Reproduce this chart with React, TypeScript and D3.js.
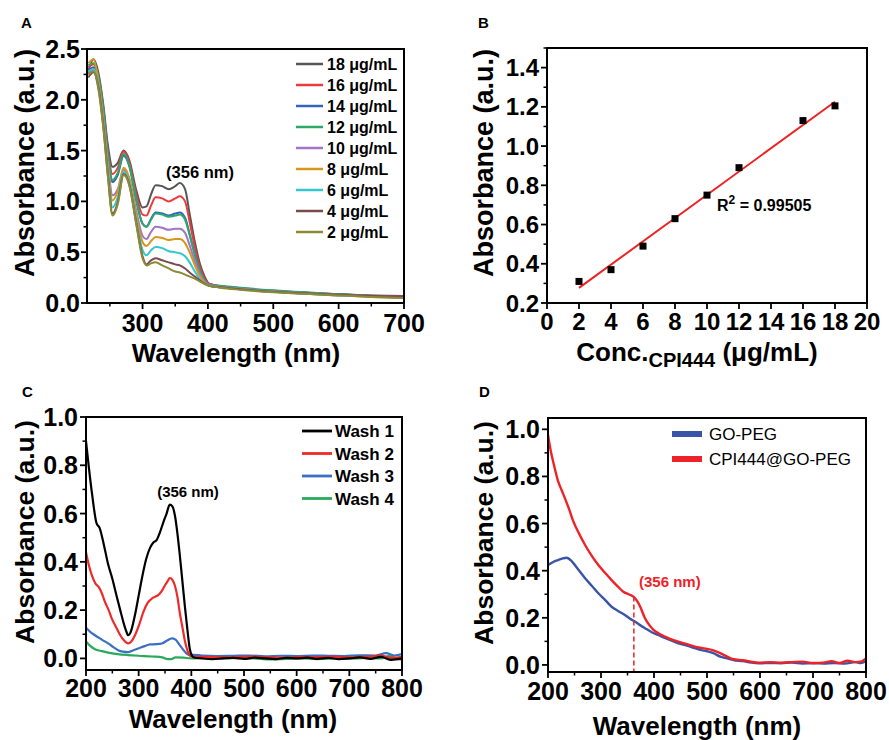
import React from 'react';
import * as d3 from 'd3';

const FONT = "'Liberation Sans', Arial, Helvetica, sans-serif";

// ---------- Panel A data ----------
const wlA = [217, 225, 232, 240, 247, 254, 262, 271, 280, 290, 300, 306, 313, 320, 330, 340, 350, 357, 365, 372, 380, 388, 395, 402, 420, 450, 500, 550, 600, 650, 700];
const a18 = [2.28, 2.40, 2.28, 1.95, 1.55, 1.34, 1.38, 1.50, 1.40, 1.12, 0.94, 0.95, 1.07, 1.16, 1.15, 1.12, 1.15, 1.18, 1.12, 0.88, 0.60, 0.38, 0.26, 0.19, 0.165, 0.14, 0.115, 0.10, 0.085, 0.075, 0.07];
const a16 = [2.32, 2.35, 2.25, 1.92, 1.50, 1.27, 1.33, 1.49, 1.38, 1.08, 0.87, 0.86, 0.96, 1.04, 1.03, 1.00, 1.03, 1.05, 1.00, 0.80, 0.55, 0.35, 0.24, 0.185, 0.165, 0.14, 0.115, 0.10, 0.085, 0.072, 0.065];
const a14 = [2.28, 2.32, 2.22, 1.88, 1.45, 1.19, 1.26, 1.45, 1.34, 1.02, 0.78, 0.75, 0.83, 0.89, 0.88, 0.86, 0.88, 0.89, 0.84, 0.68, 0.48, 0.31, 0.22, 0.18, 0.165, 0.145, 0.12, 0.10, 0.085, 0.07, 0.06];
const a12 = [2.34, 2.36, 2.24, 1.90, 1.47, 1.21, 1.28, 1.47, 1.35, 1.03, 0.78, 0.75, 0.82, 0.88, 0.87, 0.85, 0.86, 0.87, 0.82, 0.67, 0.47, 0.31, 0.22, 0.18, 0.17, 0.15, 0.125, 0.105, 0.085, 0.07, 0.055];
const a10 = [2.26, 2.30, 2.18, 1.82, 1.38, 1.06, 1.12, 1.31, 1.22, 0.92, 0.66, 0.63, 0.70, 0.75, 0.74, 0.72, 0.73, 0.73, 0.69, 0.57, 0.41, 0.28, 0.21, 0.18, 0.16, 0.14, 0.115, 0.095, 0.08, 0.07, 0.06];
const a8 = [2.36, 2.40, 2.20, 1.80, 1.34, 1.01, 1.10, 1.33, 1.22, 0.88, 0.60, 0.56, 0.61, 0.65, 0.64, 0.62, 0.63, 0.63, 0.59, 0.50, 0.37, 0.26, 0.20, 0.17, 0.155, 0.135, 0.11, 0.09, 0.075, 0.06, 0.05];
const a6 = [2.28, 2.30, 2.16, 1.76, 1.30, 0.94, 1.04, 1.29, 1.18, 0.83, 0.52, 0.47, 0.52, 0.55, 0.54, 0.51, 0.50, 0.49, 0.46, 0.40, 0.31, 0.23, 0.19, 0.17, 0.155, 0.135, 0.11, 0.09, 0.075, 0.065, 0.055];
const a4 = [2.22, 2.27, 2.14, 1.74, 1.26, 0.88, 0.99, 1.27, 1.16, 0.80, 0.46, 0.38, 0.42, 0.44, 0.42, 0.40, 0.38, 0.37, 0.34, 0.30, 0.26, 0.22, 0.19, 0.17, 0.155, 0.135, 0.11, 0.095, 0.08, 0.07, 0.065];
const a2 = [2.25, 2.28, 2.12, 1.72, 1.24, 0.86, 0.97, 1.26, 1.15, 0.79, 0.44, 0.37, 0.39, 0.40, 0.37, 0.34, 0.31, 0.30, 0.28, 0.26, 0.24, 0.21, 0.185, 0.17, 0.15, 0.13, 0.105, 0.09, 0.075, 0.06, 0.05];
const seriesA = [a18, a16, a14, a12, a10, a8, a6, a4, a2];
const labelsA = ['18 μg/mL', '16 μg/mL', '14 μg/mL', '12 μg/mL', '10 μg/mL', '8 μg/mL', '6 μg/mL', '4 μg/mL', '2 μg/mL'];
const colorsA = ['#555555', '#ee3a3f', '#3565b8', '#2ba86a', '#a274c4', '#d9961c', '#35c6cf', '#7b4a4c', '#8b8b35'];
const xTicksA = [300, 400, 500, 600, 700];
const yTicksA = [0, 0.5, 1.0, 1.5, 2.0, 2.5];

// ---------- Panel B data ----------
const concB = [2, 4, 6, 8, 10, 12, 16, 18];
const absB = [0.31, 0.37, 0.49, 0.63, 0.75, 0.89, 1.13, 1.205];
const xTicksB = [0, 2, 4, 6, 8, 10, 12, 14, 16, 18, 20];
const yTicksB = [0.2, 0.4, 0.6, 0.8, 1.0, 1.2, 1.4];
const r2Text = '0.99505';

// ---------- Panel C data ----------
const wash1Wl = [200, 205, 211, 220, 226, 234, 242, 250, 258, 265, 271, 276, 280, 285, 293, 300, 306, 314, 322, 328, 334, 340, 347, 353, 359, 364, 369, 374, 378, 383, 388, 393, 397, 401, 405, 420, 440, 460, 480, 500, 520, 540, 560, 580, 600, 620, 640, 660, 680, 700, 720, 740, 760, 780, 800];
const wash1Ab = [0.90, 0.80, 0.69, 0.56, 0.54, 0.47, 0.39, 0.33, 0.26, 0.20, 0.15, 0.115, 0.096, 0.11, 0.18, 0.26, 0.33, 0.41, 0.46, 0.48, 0.49, 0.52, 0.565, 0.60, 0.637, 0.63, 0.59, 0.51, 0.43, 0.32, 0.21, 0.11, 0.04, 0.012, 0.004, 0.0, -0.003, 0.0, 0.002, -0.002, 0.003, 0.0, -0.003, 0.002, 0.0, 0.003, -0.002, 0.002, -0.003, 0.0, 0.004, -0.002, 0.006, -0.006, 0.0];
const wash2Wl = [200, 205, 211, 218, 224, 230, 236, 243, 249, 257, 265, 272, 280, 286, 293, 301, 309, 317, 325, 331, 337, 344, 350, 355, 359, 364, 369, 374, 378, 383, 388, 393, 397, 401, 430, 460, 490, 520, 550, 580, 610, 640, 670, 700, 730, 760, 780, 800];
const wash2Ab = [0.44, 0.39, 0.345, 0.31, 0.296, 0.27, 0.234, 0.20, 0.165, 0.13, 0.096, 0.075, 0.062, 0.07, 0.096, 0.14, 0.193, 0.23, 0.248, 0.255, 0.262, 0.28, 0.303, 0.32, 0.333, 0.325, 0.30, 0.25, 0.19, 0.13, 0.07, 0.03, 0.012, 0.008, 0.006, 0.004, 0.006, 0.008, 0.004, 0.003, 0.006, 0.005, 0.007, 0.004, 0.006, 0.012, 0.002, 0.006];
const wash3Wl = [200, 208, 217, 230, 242, 252, 261, 270, 280, 288, 299, 310, 322, 333, 344, 354, 363, 370, 378, 385, 391, 397, 402, 420, 450, 480, 510, 540, 570, 600, 630, 660, 690, 720, 750, 770, 785, 800];
const wash3Ab = [0.127, 0.11, 0.096, 0.078, 0.062, 0.047, 0.034, 0.028, 0.026, 0.032, 0.041, 0.05, 0.058, 0.059, 0.062, 0.074, 0.083, 0.078, 0.055, 0.035, 0.02, 0.014, 0.015, 0.012, 0.01, 0.011, 0.012, 0.009, 0.011, 0.01, 0.012, 0.011, 0.01, 0.013, 0.012, 0.022, 0.012, 0.018];
const wash4Wl = [200, 208, 217, 230, 242, 260, 280, 300, 325, 345, 355, 362, 370, 385, 400, 430, 460, 490, 520, 550, 580, 610, 640, 670, 700, 730, 760, 775, 790, 800];
const wash4Ab = [0.07, 0.052, 0.038, 0.03, 0.024, 0.018, 0.014, 0.011, 0.008, 0.004, -0.003, -0.003, 0.004, 0.003, 0.0, 0.002, 0.0, 0.002, 0.0, -0.004, -0.002, 0.0, -0.003, 0.0, -0.001, 0.002, 0.0, 0.01, 0.0, -0.005];
const seriesC = [
  { name: 'Wash 1', wl: wash1Wl, ab: wash1Ab },
  { name: 'Wash 2', wl: wash2Wl, ab: wash2Ab },
  { name: 'Wash 3', wl: wash3Wl, ab: wash3Ab },
  { name: 'Wash 4', wl: wash4Wl, ab: wash4Ab },
];
const colorsC = ['#000000', '#ee2a2a', '#3a6fc4', '#2aaa5a'];
const xTicksC = [200, 300, 400, 500, 600, 700, 800];
const yTicksC = [0, 0.2, 0.4, 0.6, 0.8, 1.0];

// ---------- Panel D data ----------
const goPegWl = [200, 210, 219, 228, 235, 245, 257, 270, 283, 295, 308, 320, 333, 345, 355, 364, 373, 383, 395, 408, 425, 446, 462, 477, 487, 500, 512, 525, 538, 550, 568, 583, 597, 620, 640, 660, 680, 700, 720, 740, 760, 780, 790, 800];
const goPegAb = [0.424, 0.437, 0.445, 0.452, 0.455, 0.44, 0.405, 0.368, 0.335, 0.304, 0.275, 0.247, 0.228, 0.212, 0.196, 0.184, 0.17, 0.156, 0.14, 0.127, 0.11, 0.092, 0.082, 0.071, 0.064, 0.058, 0.05, 0.035, 0.028, 0.021, 0.016, 0.01, 0.007, 0.008, 0.007, 0.01, 0.006, 0.007, 0.006, 0.008, 0.006, 0.012, 0.008, 0.016];
const cpiWl = [200, 205, 210, 219, 226, 232, 240, 248, 258, 270, 282, 295, 308, 320, 332, 342, 352, 361, 368, 374, 383, 391, 399, 410, 421, 433, 446, 462, 477, 487, 500, 509, 525, 538, 550, 568, 583, 597, 620, 640, 660, 680, 700, 720, 735, 750, 765, 780, 790, 800];
const cpiAb = [0.976, 0.91, 0.86, 0.78, 0.74, 0.707, 0.66, 0.608, 0.56, 0.509, 0.465, 0.424, 0.39, 0.36, 0.332, 0.311, 0.30, 0.29, 0.272, 0.247, 0.198, 0.17, 0.149, 0.132, 0.12, 0.108, 0.099, 0.088, 0.078, 0.073, 0.068, 0.064, 0.05, 0.035, 0.024, 0.02, 0.014, 0.01, 0.012, 0.01, 0.012, 0.014, 0.008, 0.01, 0.016, 0.008, 0.018, 0.012, 0.014, 0.028];
const seriesD = [
  { name: 'GO-PEG', wl: goPegWl, ab: goPegAb },
  { name: 'CPI444@GO-PEG', wl: cpiWl, ab: cpiAb },
];
const colorsD = ['#3a55a8', '#ee2228'];
const markerWlD = 362;
const markerAbD = 0.29;
const xTicksD = [200, 300, 400, 500, 600, 700, 800];
const yTicksD = [0, 0.2, 0.4, 0.6, 0.8, 1.0];

type Box = { l: number; r: number; t: number; b: number };

function Frame(props: {
  box: Box;
  x: d3.ScaleLinear<number, number>;
  y: d3.ScaleLinear<number, number>;
  xTicks: number[];
  xMinor: number[];
  yTicks: number[];
  yMinor: number[];
  xFmt: (v: number) => string;
  yFmt: (v: number) => string;
  fs: number;
  xLabY: number;
  yGap: number;
}) {
  const { box, x, y, xTicks, xMinor, yTicks, yMinor, xFmt, yFmt, fs, xLabY, yGap } = props;
  return (
    <g>
      <rect x={box.l} y={box.t} width={box.r - box.l} height={box.b - box.t} fill="none" stroke="#000" strokeWidth={2} />
      {xTicks.map((v) => (
        <g key={'xt' + v}>
          <line x1={x(v)} x2={x(v)} y1={box.b} y2={box.b + 6} stroke="#000" strokeWidth={1.8} />
          <text x={x(v)} y={xLabY} textAnchor="middle" fontSize={fs} fontWeight="bold" fontFamily={FONT}>{xFmt(v)}</text>
        </g>
      ))}
      {xMinor.map((v) => (
        <line key={'xm' + v} x1={x(v)} x2={x(v)} y1={box.b} y2={box.b + 3.5} stroke="#000" strokeWidth={1.5} />
      ))}
      {yTicks.map((v) => (
        <g key={'yt' + v}>
          <line x1={box.l - 6} x2={box.l} y1={y(v)} y2={y(v)} stroke="#000" strokeWidth={1.8} />
          <text x={box.l - yGap} y={y(v)} dy="0.36em" textAnchor="end" fontSize={fs} fontWeight="bold" fontFamily={FONT}>{yFmt(v)}</text>
        </g>
      ))}
      {yMinor.map((v) => (
        <line key={'ym' + v} x1={box.l - 3.5} x2={box.l} y1={y(v)} y2={y(v)} stroke="#000" strokeWidth={1.5} />
      ))}
    </g>
  );
}

function YTitle({ x, y, fs }: { x: number; y: number; fs: number }) {
  return (
    <text transform={`translate(${x},${y}) rotate(-90)`} textAnchor="middle" fontSize={fs} fontWeight="bold" fontFamily={FONT}>Absorbance (a.u.)</text>
  );
}

const f1 = d3.format('.1f');
const f0 = d3.format('d');

export default function App() {
  // Panel A
  const boxA: Box = { l: 87, r: 404, t: 49, b: 303 };
  const xA = d3.scaleLinear().domain([215, 700]).range([boxA.l, boxA.r]);
  const yA = d3.scaleLinear().domain([0, 2.5]).range([boxA.b, boxA.t]);
  const lineA = d3.line<number>().x((_, i) => xA(wlA[i])).y((d) => yA(d)).curve(d3.curveMonotoneX);

  // Panel B
  const boxB: Box = { l: 547, r: 867, t: 48, b: 303 };
  const xB = d3.scaleLinear().domain([0, 20]).range([boxB.l, boxB.r]);
  const yB = d3.scaleLinear().domain([0.2, 1.5]).range([boxB.b, boxB.t]);
  const mx = d3.mean(concB)!;
  const my = d3.mean(absB)!;
  const slope = d3.sum(concB.map((c, i) => (c - mx) * (absB[i] - my))) / d3.sum(concB.map((c) => (c - mx) * (c - mx)));
  const icpt = my - slope * mx;
  const fitX = [concB[0], concB[concB.length - 1]];

  // Panel C
  const boxC: Box = { l: 86, r: 402, t: 417, b: 670 };
  const xC = d3.scaleLinear().domain([200, 800]).range([boxC.l, boxC.r]);
  const yC = d3.scaleLinear().domain([-0.048, 1.0]).range([boxC.b, boxC.t]);

  // Panel D
  const boxD: Box = { l: 548, r: 866, t: 418, b: 672 };
  const xD = d3.scaleLinear().domain([200, 800]).range([boxD.l, boxD.r]);
  const yD = d3.scaleLinear().domain([-0.03, 1.048]).range([boxD.b, boxD.t]);

  const lineGen = (xs: d3.ScaleLinear<number, number>, ys: d3.ScaleLinear<number, number>, wl: number[], ab: number[]) =>
    d3.line<number>().x((_, i) => xs(wl[i])).y((d) => ys(d)).curve(d3.curveMonotoneX)(ab) || '';

  return (
    <svg width={889} height={740} style={{ position: 'absolute', left: 0, top: 0, background: '#fff' }} fontFamily={FONT}>
      <rect width={889} height={740} fill="#fff" />
      {/* ===== Panel A ===== */}
      <text x={21} y={28} fontSize={15} fontWeight="bold">A</text>
      <defs>
        <clipPath id="clipA"><rect x={boxA.l} y={boxA.t} width={boxA.r - boxA.l} height={boxA.b - boxA.t} /></clipPath>
        <clipPath id="clipC"><rect x={boxC.l} y={boxC.t} width={boxC.r - boxC.l} height={boxC.b - boxC.t} /></clipPath>
        <clipPath id="clipD"><rect x={boxD.l} y={boxD.t} width={boxD.r - boxD.l} height={boxD.b - boxD.t} /></clipPath>
      </defs>
      <g clipPath="url(#clipA)">
        {seriesA.map((s, i) => (
          <path key={i} d={lineA(s) || ''} fill="none" stroke={colorsA[i]} strokeWidth={2} />
        ))}
      </g>
      <Frame box={boxA} x={xA} y={yA} xTicks={xTicksA} xMinor={[250, 350, 450, 550, 650]} yTicks={yTicksA}
        yMinor={[0.25, 0.75, 1.25, 1.75, 2.25]} xFmt={f0} yFmt={f1} fs={25} xLabY={332} yGap={7} />
      {labelsA.map((lab, i) => (
        <g key={lab}>
          <line x1={296} x2={323} y1={64 + i * 21} y2={64 + i * 21} stroke={colorsA[i]} strokeWidth={2.5} />
          <text x={327} y={64 + i * 21} dy="0.36em" fontSize={16} fontWeight="bold">{lab}</text>
        </g>
      ))}
      <text x={200} y={178} textAnchor="middle" fontSize={16.5} fontWeight="bold">(356 nm)</text>
      <YTitle x={34} y={163} fs={27} />
      <text x={236} y={362} textAnchor="middle" fontSize={26} fontWeight="bold">Wavelength (nm)</text>

      {/* ===== Panel B ===== */}
      <text x={478} y={28} fontSize={15} fontWeight="bold">B</text>
      <line x1={xB(fitX[0])} y1={yB(icpt + slope * fitX[0])} x2={xB(fitX[1])} y2={yB(icpt + slope * fitX[1])} stroke="#ee2222" strokeWidth={2} />
      {concB.map((c, i) => (
        <rect key={c} x={xB(c) - 3.5} y={yB(absB[i]) - 3.5} width={7} height={7} fill="#000" />
      ))}
      <Frame box={boxB} x={xB} y={yB} xTicks={xTicksB} xMinor={[]} yTicks={yTicksB}
        yMinor={[0.3, 0.5, 0.7, 0.9, 1.1, 1.3, 1.5]} xFmt={f0} yFmt={f1} fs={24} xLabY={330} yGap={8} />
      <text x={717} y={211} fontSize={16} fontWeight="bold">R<tspan fontSize={12} dy={-7}>2</tspan><tspan dy={7}> = {r2Text}</tspan></text>
      <YTitle x={493} y={163} fs={27} />
      <text x={697} y={361} textAnchor="middle" fontSize={26} fontWeight="bold">Conc.<tspan fontSize={20} dy={6}>CPI444</tspan><tspan dy={-6}> (μg/mL)</tspan></text>

      {/* ===== Panel C ===== */}
      <text x={22} y={397} fontSize={15} fontWeight="bold">C</text>
      <g clipPath="url(#clipC)">
        {seriesC.slice().reverse().map((s) => {
          const i = seriesC.indexOf(s);
          return <path key={s.name} d={lineGen(xC, yC, s.wl, s.ab)} fill="none" stroke={colorsC[i]} strokeWidth={2.2} />;
        })}
      </g>
      <Frame box={boxC} x={xC} y={yC} xTicks={xTicksC} xMinor={[250, 350, 450, 550, 650, 750]} yTicks={yTicksC}
        yMinor={[0.1, 0.3, 0.5, 0.7, 0.9]} xFmt={f0} yFmt={f1} fs={25} xLabY={697} yGap={8} />
      {seriesC.map((s, i) => (
        <g key={s.name}>
          <line x1={302} x2={332} y1={431 + i * 22.5} y2={431 + i * 22.5} stroke={colorsC[i]} strokeWidth={2.8} />
          <text x={335} y={431 + i * 22.5} dy="0.36em" fontSize={17} fontWeight="bold">{s.name}</text>
        </g>
      ))}
      <text x={188} y={497} textAnchor="middle" fontSize={15} fontWeight="bold">(356 nm)</text>
      <YTitle x={34} y={532} fs={26.5} />
      <text x={233} y={728} textAnchor="middle" fontSize={26} fontWeight="bold">Wavelength (nm)</text>

      {/* ===== Panel D ===== */}
      <text x={479} y={397} fontSize={15} fontWeight="bold">D</text>
      <g clipPath="url(#clipD)">
        {seriesD.map((s, i) => (
          <path key={s.name} d={lineGen(xD, yD, s.wl, s.ab)} fill="none" stroke={colorsD[i]} strokeWidth={2.4} />
        ))}
      </g>
      <line x1={xD(markerWlD)} x2={xD(markerWlD)} y1={yD(markerAbD)} y2={boxD.b} stroke="#ee2228" strokeWidth={1.5} strokeDasharray="5,3" />
      <Frame box={boxD} x={xD} y={yD} xTicks={xTicksD} xMinor={[250, 350, 450, 550, 650, 750]} yTicks={yTicksD}
        yMinor={[0.1, 0.3, 0.5, 0.7, 0.9]} xFmt={f0} yFmt={f1} fs={25} xLabY={700} yGap={8} />
      {seriesD.map((s, i) => (
        <g key={s.name}>
          <rect x={672} y={434 + i * 25 - 3} width={30} height={6} fill={colorsD[i]} />
          <text x={709} y={434 + i * 25} dy="0.36em" fontSize={17}>{s.name}</text>
        </g>
      ))}
      <text x={639} y={587} fontSize={15} fontWeight="bold" fill="#ee2228">(356 nm)</text>
      <YTitle x={493} y={533} fs={26.5} />
      <text x={697} y={735} textAnchor="middle" fontSize={26} fontWeight="bold">Wavelength (nm)</text>
    </svg>
  );
}
